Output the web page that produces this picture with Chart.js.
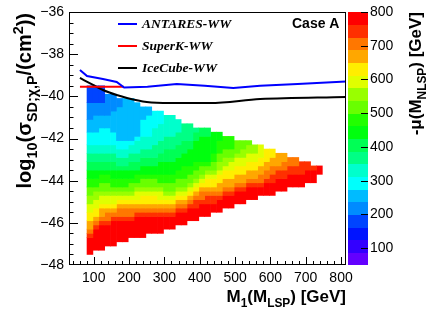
<!DOCTYPE html>
<html>
<head>
<meta charset="utf-8">
<script src="https://cdn.jsdelivr.net/npm/chart.js@4.4.1/dist/chart.umd.min.js"></script>
<style>
html,body{margin:0;padding:0;background:#ffffff;overflow:hidden;}
#box{position:relative;width:433px;height:314px;}
</style>
</head>
<body>
<div id="box"><canvas id="chart" width="433" height="314"></canvas></div>
<script>
// ---------------- data ----------------
// x bin centres of the colour map, M1(M_LSP) [GeV]
const xBinCenters = [89.33, 105.98, 122.63, 139.28, 155.93, 172.58, 189.23, 205.88, 222.53, 239.18,
  255.83, 272.48, 289.13, 305.78, 322.43, 339.08, 355.73, 372.38, 389.03, 405.68,
  422.33, 438.98, 455.63, 472.28, 488.93, 505.58, 522.23, 538.88, 555.53, 572.18,
  588.83, 605.48, 622.13, 638.78, 655.43, 672.08, 688.73, 705.38, 722.03, 738.68];
// y bin edges, log10(sigma)
const yBinEdges = [-47.5, -47.3, -47.1, -46.9, -46.7, -46.5, -46.3, -46.1, -45.9, -45.7,
  -45.5, -45.3, -45.1, -44.9, -44.7, -44.5, -44.3, -44.1, -43.9, -43.7,
  -43.5, -43.3, -43.1, -42.9, -42.7, -42.5, -42.3, -42.1, -41.9, -41.7,
  -41.5, -41.3, -41.1, -40.9, -40.7, -40.5, -40.3, -40.1, -39.9, -39.7, -39.5];
// contour edges of -mu(M_NLSP) [GeV]
const muLevelEdges = [50, 87.5, 125, 162.5, 200, 237.5, 275, 312.5, 350, 387.5, 425,
  462.5, 500, 537.5, 575, 612.5, 650, 687.5, 725, 762.5, 800];
// one key per contour level (index into muLevelEdges), '.' = empty cell
const levelKeys = '0123456789ABCDEFGHIJ';
// one string per x bin, rows from the lowest y bin upwards
const cellColumns = [
  "JJJJIHGGFFEEDDCCBBAA99887766655544443333",
  ".JJJJJIHGFFEEDDCBBAA99887766655554443333",
  ".JJJJJJIHGGFEEDCCBBA99887766665554443333",
  "..JJJJJIHHGFEEDCCBBA998877666655544444..",
  "..JJJJJJIHGFEEDCBBAA998877666555554444..",
  "...JJJJJIHHGFEDCBBAA98877665555555544...",
  "...JJJJJIHHGFEDCBBAA98877665555555555...",
  "....JJJJIHHGFEDCCBAA99887765555555555...",
  "....JJJJJIHGFEEDCBBA9988777655555555....",
  "....JJJJJIHGFFEDCCBAA99887776666555.....",
  ".....JJJJIHGFFEDCCBAA99887776666655.....",
  ".....JJJJIHGFFEDCCBAA9988877776666......",
  ".....JJJJIHGFEEDCBBAAA998887777666......",
  "......JJJIHGFEDCCBBAAA99988877777.......",
  "......JJJIHGFEDCCBBAAA99988877777.......",
  ".......JJJIHGFEDCCBBAAA999888777........",
  ".......JJJIHGFEDCCBBBAAA9998888.........",
  "........JJJIHGFEDCCBBAAAA998888.........",
  "........JJJIIHGFEDCCBBAAAAA998..........",
  ".........JJJIHHGFEDCCBAAAAAA99..........",
  ".........JJJIIHGFFEDCBAAAAAA99..........",
  "..........JJIIHGFFEDCCBBAAAAA...........",
  "..........JJJIHGGFFEDDCCBBBAA...........",
  "...........JJJIHGGFFEDDCCBBB............",
  "...........JJJIHGGFFEEDCCBBB............",
  "............JJJIHGGFFEEDCCC.............",
  "............JJJIHGGFFEEDDCC.............",
  ".............JJJIHGGFFEEDDC.............",
  ".............JJJIHGGFFEEDD..............",
  "..............JJIHHGGFFEEE..............",
  "..............JJJIHHGGFFF...............",
  "..............JJJIIHHGGFF...............",
  "...............JJJIIHGGG................",
  "...............JJJIIHHGG................",
  "................JJJIIHH.................",
  "................JJJIIHH.................",
  "................JJJIII..................",
  ".................JJJII..................",
  ".................JJJI...................",
  "...................JJ..................."
];
// limit curves
const antaresX = [61, 81, 126, 165, 186, 252, 335, 414, 495, 571, 677, 814];
const antaresY = [-38.75, -39.04, -39.18, -39.32, -39.58, -39.55, -39.42, -39.5, -39.6, -39.5, -39.42, -39.3];
const superkX = [61, 185];
const superkY = [-39.54, -39.54];
const icecubeX = [61, 98, 126, 165, 194, 250, 316, 429, 571, 814];
const icecubeY = [-39.13, -39.46, -39.7, -39.94, -40.08, -40.27, -40.32, -40.32, -40.13, -40.03];
// axes
const xTicks = [100, 200, 300, 400, 500, 600, 700, 800];
const yTicks = [-48, -46, -44, -42, -40, -38, -36];
const zTicks = [100, 200, 300, 400, 500, 600, 700, 800];
const legendNames = ['ANTARES-WW', 'SuperK-WW', 'IceCube-WW'];

// ---------------- styles ----------------
const levelHues = [263.2, 252, 235.2, 224, 207.2, 196, 179.2, 168, 151.2, 140, 123.2, 112, 95.2, 84, 67.2, 56, 39.2, 28, 11.2, 0];
const levelColor = k => `hsl(${levelHues[k]}, 100%, 50%)`;
const SANS = '"Liberation Sans", Arial, Helvetica, sans-serif';
const SERIF = '"Liberation Serif", "Times New Roman", serif';

// ---------------- build datasets ----------------
const cellData = levelKeys.split('').map(() => []);
cellColumns.forEach((col, i) => {
  let j = 0;
  while (j < col.length) {
    const ch = col[j];
    let e = j;
    while (e + 1 < col.length && col[e + 1] === ch) e++;
    const k = levelKeys.indexOf(ch);
    if (k >= 0) cellData[k].push({x: xBinCenters[i], y: [yBinEdges[j], yBinEdges[e + 1]]});
    j = e + 1;
  }
});
const datasets = [];
cellData.forEach((d, k) => {
  if (!d.length) return;
  datasets.push({type: 'bar', label: 'level ' + k, data: d, backgroundColor: levelColor(k),
    borderWidth: 0, grouped: false, categoryPercentage: 1, barPercentage: 1, order: 2});
});
const toPts = (xs, ys) => xs.map((v, i) => ({x: v, y: ys[i]}));
datasets.push({type: 'line', label: legendNames[0], data: toPts(antaresX, antaresY), borderColor: '#0000ff',
  borderWidth: 2, pointRadius: 0, fill: false, tension: 0, order: 0});
datasets.push({type: 'line', label: legendNames[1], data: toPts(superkX, superkY), borderColor: '#ff0000',
  borderWidth: 2, pointRadius: 0, fill: false, tension: 0, order: 0});
datasets.push({type: 'line', label: legendNames[2], data: toPts(icecubeX, icecubeY), borderColor: '#000000',
  borderWidth: 2, pointRadius: 0, fill: false, tension: 0.4, cubicInterpolationMode: 'monotone', order: 0});

// ---------------- rich text helper ----------------
function partsWidth(ctx, parts, size, style, ratio) {
  let w = 0;
  for (const p of parts) {
    const s = p.s ? size * ratio : size;
    ctx.font = `${style} ${s}px ${SANS}`;
    w += ctx.measureText(p.t).width;
  }
  return w;
}
function drawParts(ctx, parts, x, y, size, style, ratio) {
  ctx.textAlign = 'left';
  ctx.textBaseline = 'alphabetic';
  for (const p of parts) {
    const s = p.s ? size * ratio : size;
    ctx.font = `${style} ${s}px ${SANS}`;
    let dy = 0;
    if (p.s === 'sub') dy = size * 0.32;
    if (p.s === 'sup') dy = -size * 0.42;
    ctx.fillText(p.t, x, y + dy);
    x += ctx.measureText(p.t).width;
  }
}

const decor = {
  id: 'decor',
  afterDatasetsDraw(chart) {
    const {ctx, chartArea: a, scales} = chart;
    const sx = scales.x, sy = scales.y, sz = scales.z;
    ctx.save();
    ctx.fillStyle = '#000';
    ctx.strokeStyle = '#000';
    // frame
    ctx.lineWidth = 1;
    ctx.strokeRect(a.left + 0.5, a.top + 0.5, a.right - a.left - 1, a.bottom - a.top - 1);
    // x ticks (inside)
    ctx.beginPath();
    for (let v = 40; v <= 810; v += 20) {
      const px = Math.round(sx.getPixelForValue(v)) + 0.5;
      const len = xTicks.includes(v) ? 8 : 4;
      ctx.moveTo(px, a.bottom); ctx.lineTo(px, a.bottom - len);
    }
    // y ticks
    for (let v = -47.5; v < -36; v += 0.5) {
      const py = Math.round(sy.getPixelForValue(v)) + 0.5;
      const len = Number.isInteger(v / 2) ? 9 : 4.5;
      ctx.moveTo(a.left, py); ctx.lineTo(a.left + len, py);
    }
    ctx.stroke();
    // tick labels
    ctx.font = `14px ${SANS}`;
    ctx.textAlign = 'center'; ctx.textBaseline = 'top';
    xTicks.forEach(v => ctx.fillText(String(v), sx.getPixelForValue(v), a.bottom + 6));
    ctx.textAlign = 'right'; ctx.textBaseline = 'middle';
    yTicks.forEach(v => ctx.fillText('\u2212' + Math.abs(v), a.left - 5, sy.getPixelForValue(v)));
    // colour bar
    const bx0 = a.right + 2, bx1 = a.right + 22;
    for (let k = 0; k < muLevelEdges.length - 1; k++) {
      const y1 = sz.getPixelForValue(muLevelEdges[k]);
      const y2 = sz.getPixelForValue(muLevelEdges[k + 1]);
      ctx.fillStyle = levelColor(k);
      ctx.fillRect(bx0, Math.floor(y2), bx1 - bx0, Math.ceil(y1) - Math.floor(y2));
    }
    ctx.fillStyle = '#000';
    ctx.beginPath();
    zTicks.forEach(v => {
      const py = Math.round(sz.getPixelForValue(v)) + 0.5;
      ctx.moveTo(bx1 - 7, py); ctx.lineTo(bx1, py);
    });
    ctx.stroke();
    ctx.font = `14px ${SANS}`;
    ctx.textAlign = 'left'; ctx.textBaseline = 'middle';
    zTicks.forEach(v => ctx.fillText(String(v), bx1 + 2, sz.getPixelForValue(v)));
    // x title
    const xt = [{t: 'M'}, {t: '1', s: 'sub'}, {t: '(M'}, {t: 'LSP', s: 'sub'}, {t: ') [GeV]'}];
    const xw = partsWidth(ctx, xt, 17, 'bold', 0.7);
    drawParts(ctx, xt, a.right - xw, 302, 17, 'bold', 0.7);
    // y title
    const yt = [{t: 'log'}, {t: '10', s: 'sub'}, {t: '(\u03c3'}, {t: 'SD;\u03c7,P', s: 'sub'}, {t: '/(cm'}, {t: '2', s: 'sup'}, {t: '))'}];
    const yw = partsWidth(ctx, yt, 20, 'bold', 0.72);
    ctx.save();
    ctx.translate(31, a.top + 1 + yw);
    ctx.rotate(-Math.PI / 2);
    drawParts(ctx, yt, 0, 0, 20, 'bold', 0.72);
    ctx.restore();
    // z title
    const zt = [{t: '-\u03bc(M'}, {t: 'NLSP', s: 'sub'}, {t: ') [GeV]'}];
    const zw = partsWidth(ctx, zt, 17, 'bold', 0.7);
    ctx.save();
    ctx.translate(421, a.top + zw);
    ctx.rotate(-Math.PI / 2);
    drawParts(ctx, zt, 0, 0, 17, 'bold', 0.7);
    ctx.restore();
    // legend
    const legY = [24, 46, 68];
    const legDs = chart.data.datasets.filter(d => d.type === 'line');
    legDs.forEach((d, i) => {
      ctx.strokeStyle = d.borderColor; ctx.lineWidth = 2;
      ctx.beginPath(); ctx.moveTo(118, legY[i]); ctx.lineTo(137, legY[i]); ctx.stroke();
      ctx.fillStyle = '#000';
      ctx.font = `italic bold 13.5px ${SERIF}`;
      ctx.textAlign = 'left'; ctx.textBaseline = 'middle';
      ctx.fillText(d.label, 142, legY[i] + 1);
    });
    // label
    ctx.font = `bold 14px ${SANS}`;
    ctx.textAlign = 'left'; ctx.textBaseline = 'middle';
    ctx.fillText('Case A', 292, 24);
    ctx.restore();
  }
};

new Chart(document.getElementById('chart'), {
  type: 'bar',
  data: {datasets},
  options: {
    responsive: false,
    animation: false,
    layout: {padding: {left: 69, right: 87, top: 12, bottom: 49}},
    plugins: {legend: {display: false}, tooltip: {enabled: false}},
    scales: {
      x: {type: 'linear', min: 30, max: 814, display: false, offset: false,
          ticks: {stepSize: 100, includeBounds: false}, grid: {offset: false}},
      y: {type: 'linear', min: -48, max: -36, display: false, beginAtZero: false},
      z: {type: 'linear', min: 50, max: 800, display: false, position: 'right'}
    }
  },
  plugins: [decor]
});
</script>
</body>
</html>
